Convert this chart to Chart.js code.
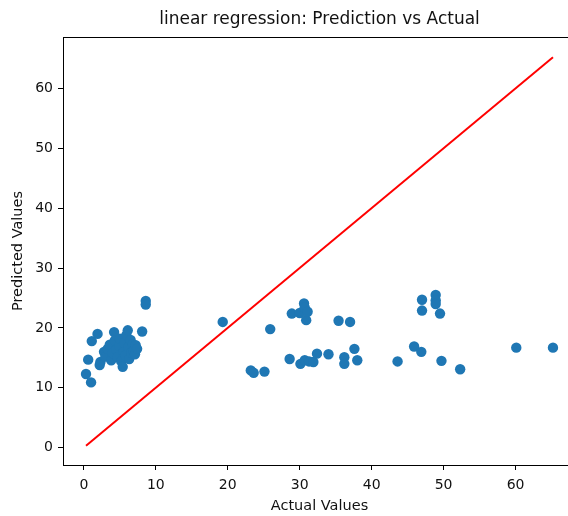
<!DOCTYPE html>
<html>
<head>
<meta charset="utf-8">
<title>linear regression: Prediction vs Actual</title>
<script src="https://cdn.jsdelivr.net/npm/chart.js@4.4.1/dist/chart.umd.min.js"></script>
<style>
    html, body { margin: 0; padding: 0; background: #fff; }
    #wrap { width: 568px; height: 516px; overflow: hidden; }
    canvas { display: block; }
</style>
</head>
<body>
<div id="wrap">
    <canvas id="regChart" width="600" height="516"></canvas>
</div>
<script>
// Test set: actual targets and the model's predictions
const actualValues = [
    0.3, 1.0, 0.6, 1.1, 1.9, 2.3, 2.2, 2.8, 3.0, 3.3,
    3.6, 3.8, 4.0, 4.2, 4.3, 4.5, 4.7, 4.9, 5.0, 5.2,
    5.4, 5.5, 5.6, 5.8, 5.9, 6.1, 6.2, 6.3, 6.5, 6.6,
    6.8, 6.9, 7.1, 7.2, 7.4, 8.1, 8.6, 8.6,
    19.3, 23.2, 23.6, 25.1, 25.9, 28.6, 28.9, 30.0, 30.1, 30.6,
    30.7, 30.7, 30.9, 31.1, 31.3, 31.9, 32.4, 34.0, 35.4, 36.2,
    36.2, 37.0, 37.6, 38.0, 43.6, 45.9, 46.9, 47.0, 47.0, 48.9,
    48.9, 48.9, 49.5, 49.7, 52.3, 60.1, 65.2
];
const predictedValues = [
    12.3, 10.9, 14.7, 17.8, 19.0, 14.3, 13.8, 16.0, 15.2, 16.5,
    17.2, 14.6, 15.8, 19.3, 17.9, 16.4, 15.1, 17.0, 18.2, 14.4,
    13.5, 16.0, 17.5, 15.4, 18.8, 19.6, 16.8, 14.8, 18.0, 15.9,
    17.3, 16.2, 15.6, 17.1, 16.5, 19.4, 24.5, 23.9,
    21.0, 12.9, 12.5, 12.7, 19.8, 14.8, 22.4, 22.5, 14.0, 24.1,
    23.4, 14.6, 21.3, 22.7, 14.4, 14.3, 15.7, 15.6, 21.2, 15.1,
    14.0, 21.0, 16.5, 14.6, 14.4, 16.9, 16.0, 24.7, 22.9, 25.5,
    24.6, 24.0, 22.4, 14.5, 13.1, 16.7, 16.7
];
const xTickValues = [0, 10, 20, 30, 40, 50, 60];
const yTickValues = [0, 10, 20, 30, 40, 50, 60];

// axis limits with matplotlib-style 5% margins
const xLimits = [-2.9, 68.4];
const yLimits = [-2.9, 68.6];

const FONT = "'DejaVu Sans', sans-serif";
const INK = '#111';

const scatterPoints = actualValues.map((a, i) => ({ x: a, y: predictedValues[i] }));

// ideal-fit line y = x across the observed range
const lo = Math.min(...actualValues);
const hi = Math.max(...actualValues);
const idealLine = [{ x: lo, y: lo }, { x: hi, y: hi }];

// full frame around the plot area (top/right spines)
const frameBox = {
    id: 'frameBox',
    afterDatasetsDraw(chart) {
        const { ctx, chartArea: a } = chart;
        ctx.save();
        ctx.strokeStyle = '#000';
        ctx.lineWidth = 1;
        ctx.strokeRect(Math.round(a.left) + 0.5, Math.round(a.top) + 0.5,
            Math.round(a.right - a.left), Math.round(a.bottom - a.top));
        ctx.restore();
    }
};

function fixedTicks(values) {
    return function(scale) {
        scale.ticks = values.map(v => ({ value: v }));
    };
}

new Chart(document.getElementById('regChart'), {
    type: 'scatter',
    data: {
        datasets: [
            {
                type: 'line',
                label: 'Ideal',
                data: idealLine,
                borderColor: '#ff0000',
                borderWidth: 2,
                pointRadius: 0,
                fill: false,
                order: 0
            },
            {
                label: 'Predictions',
                data: scatterPoints,
                backgroundColor: '#1f77b4',
                borderWidth: 0,
                pointRadius: 5.2,
                pointHoverRadius: 5.2,
                order: 1
            }
        ]
    },
    plugins: [frameBox],
    options: {
        responsive: false,
        animation: false,
        events: [],
        layout: { padding: { left: 0, right: 24, top: 0, bottom: 0 } },
        plugins: {
            legend: { display: false },
            tooltip: { enabled: false },
            title: {
                display: true,
                fullSize: false,
                text: 'linear regression: Prediction vs Actual',
                color: INK,
                font: { family: FONT, size: 17, weight: 'normal' },
                padding: { top: 9, bottom: 7.6 }
            }
        },
        scales: {
            x: {
                type: 'linear',
                min: xLimits[0],
                max: xLimits[1],
                afterBuildTicks: fixedTicks(xTickValues),
                afterFit(scale) { scale.height = 51; },
                border: { display: true, color: '#000', width: 1 },
                grid: { drawOnChartArea: false, drawTicks: true, tickLength: 5, color: '#000' },
                ticks: { color: INK, font: { family: FONT, size: 14 }, padding: 7, maxRotation: 0 },
                title: {
                    display: true,
                    text: 'Actual Values',
                    color: INK,
                    font: { family: FONT, size: 14.5 },
                    padding: { top: 0, bottom: 1.5 }
                }
            },
            y: {
                type: 'linear',
                min: yLimits[0],
                max: yLimits[1],
                afterBuildTicks: fixedTicks(yTickValues),
                afterFit(scale) { scale.width = 63; },
                border: { display: true, color: '#000', width: 1 },
                grid: { drawOnChartArea: false, drawTicks: true, tickLength: 5, color: '#000' },
                ticks: { color: INK, font: { family: FONT, size: 14 }, padding: 5 },
                title: {
                    display: true,
                    text: 'Predicted Values',
                    color: INK,
                    font: { family: FONT, size: 14.5 },
                    padding: { top: 10, bottom: 0 }
                }
            }
        }
    }
});
</script>
</body>
</html>
